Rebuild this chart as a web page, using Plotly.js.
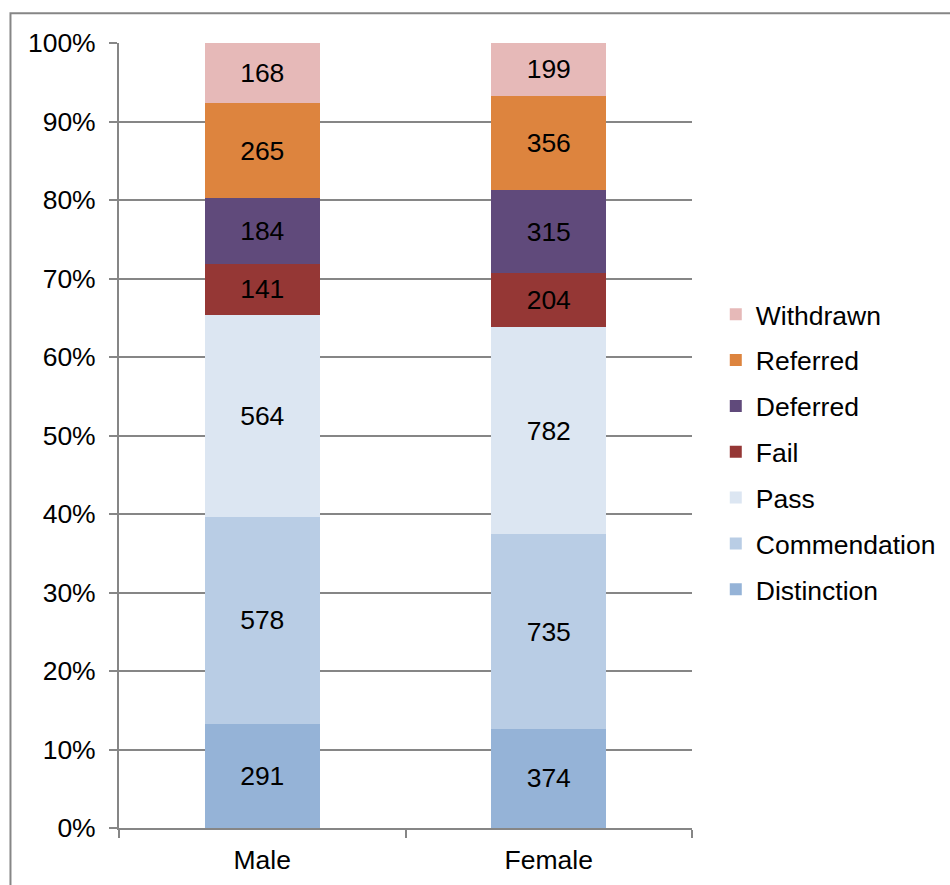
<!DOCTYPE html>
<html>
<head>
<meta charset="utf-8">
<script src="https://cdn.plot.ly/plotly-3.0.1.min.js"></script>
<style>
  html, body { margin: 0; padding: 0; background: #fff; }
  #chart { width: 950px; height: 885px; }
</style>
</head>
<body>
<div id="chart"></div>
<script>
// Outcome counts by gender, stacked to 100%
const categories = ['Male', 'Female'];
const seriesNames = ['Distinction', 'Commendation', 'Pass', 'Fail', 'Deferred', 'Referred', 'Withdrawn'];
const distinction  = [291, 374];
const commendation = [578, 735];
const pass         = [564, 782];
const fail         = [141, 204];
const deferred     = [184, 315];
const referred     = [265, 356];
const withdrawn    = [168, 199];
const yTickValues  = [0, 10, 20, 30, 40, 50, 60, 70, 80, 90, 100];
const yTickLabels  = ['0%', '10%', '20%', '30%', '40%', '50%', '60%', '70%', '80%', '90%', '100%'];

const seriesValues = [distinction, commendation, pass, fail, deferred, referred, withdrawn];
const seriesColors = ['#95B3D7', '#B9CDE5', '#DCE6F2', '#953735', '#604A7B', '#DD843E', '#E6B9B8'];

const FONT = 'Liberation Sans, Arial, sans-serif';
const FS = 26.5;
const GRAY = '#868686';

const traces = seriesNames.map((name, i) => ({
  type: 'bar',
  name: name,
  x: categories,
  y: seriesValues[i],
  text: seriesValues[i].map(String),
  textposition: 'inside',
  insidetextanchor: 'middle',
  textangle: 0,
  textfont: { family: FONT, size: FS, color: '#000' },
  marker: { color: seriesColors[i], line: { width: 0 } },
  legendgroup: name,
  // top of the stack listed first in the legend
  legendrank: seriesNames.length - i,
  hoverinfo: 'skip'
}));

const layout = {
  width: 950,
  height: 885,
  margin: { l: 119, r: 258, t: 43, b: 57, autoexpand: false },
  paper_bgcolor: '#fff',
  plot_bgcolor: '#fff',
  barmode: 'stack',
  barnorm: 'percent',
  bargap: 0.6,
  showlegend: true,
  font: { family: FONT, size: FS, color: '#000' },
  legend: {
    x: 1.0415, xanchor: 'left',
    y: 0.479, yanchor: 'middle',
    traceorder: 'grouped',
    tracegroupgap: 8.4,
    font: { family: FONT, size: FS, color: '#000' },
    itemclick: false,
    itemdoubleclick: false
  },
  xaxis: {
    type: 'category',
    showgrid: false,
    showline: true,
    linecolor: GRAY,
    linewidth: 2,
    ticks: 'outside',
    tickson: 'boundaries',
    ticklen: 8,
    tickwidth: 2,
    tickcolor: GRAY,
    ticklabelstandoff: 7,
    tickfont: { family: FONT, size: FS, color: '#000' },
    zeroline: false,
    fixedrange: true
  },
  yaxis: {
    range: [0, 100],
    tickvals: yTickValues,
    ticktext: yTickLabels,
    showgrid: true,
    gridcolor: GRAY,
    gridwidth: 2,
    showline: true,
    linecolor: GRAY,
    linewidth: 2,
    ticks: 'outside',
    ticklen: 8,
    tickwidth: 2,
    tickcolor: GRAY,
    ticklabelstandoff: 8,
    tickfont: { family: FONT, size: FS, color: '#000' },
    zeroline: false,
    fixedrange: true
  },
  shapes: [{
    // chart frame
    type: 'rect',
    xref: 'paper', yref: 'paper',
    x0: -0.1894, x1: 2, y0: -1, y1: 1.038,
    line: { color: GRAY, width: 2 },
    fillcolor: 'rgba(0,0,0,0)',
    layer: 'below'
  }]
};

Plotly.newPlot('chart', traces, layout, { displayModeBar: false, staticPlot: true });
</script>
</body>
</html>
